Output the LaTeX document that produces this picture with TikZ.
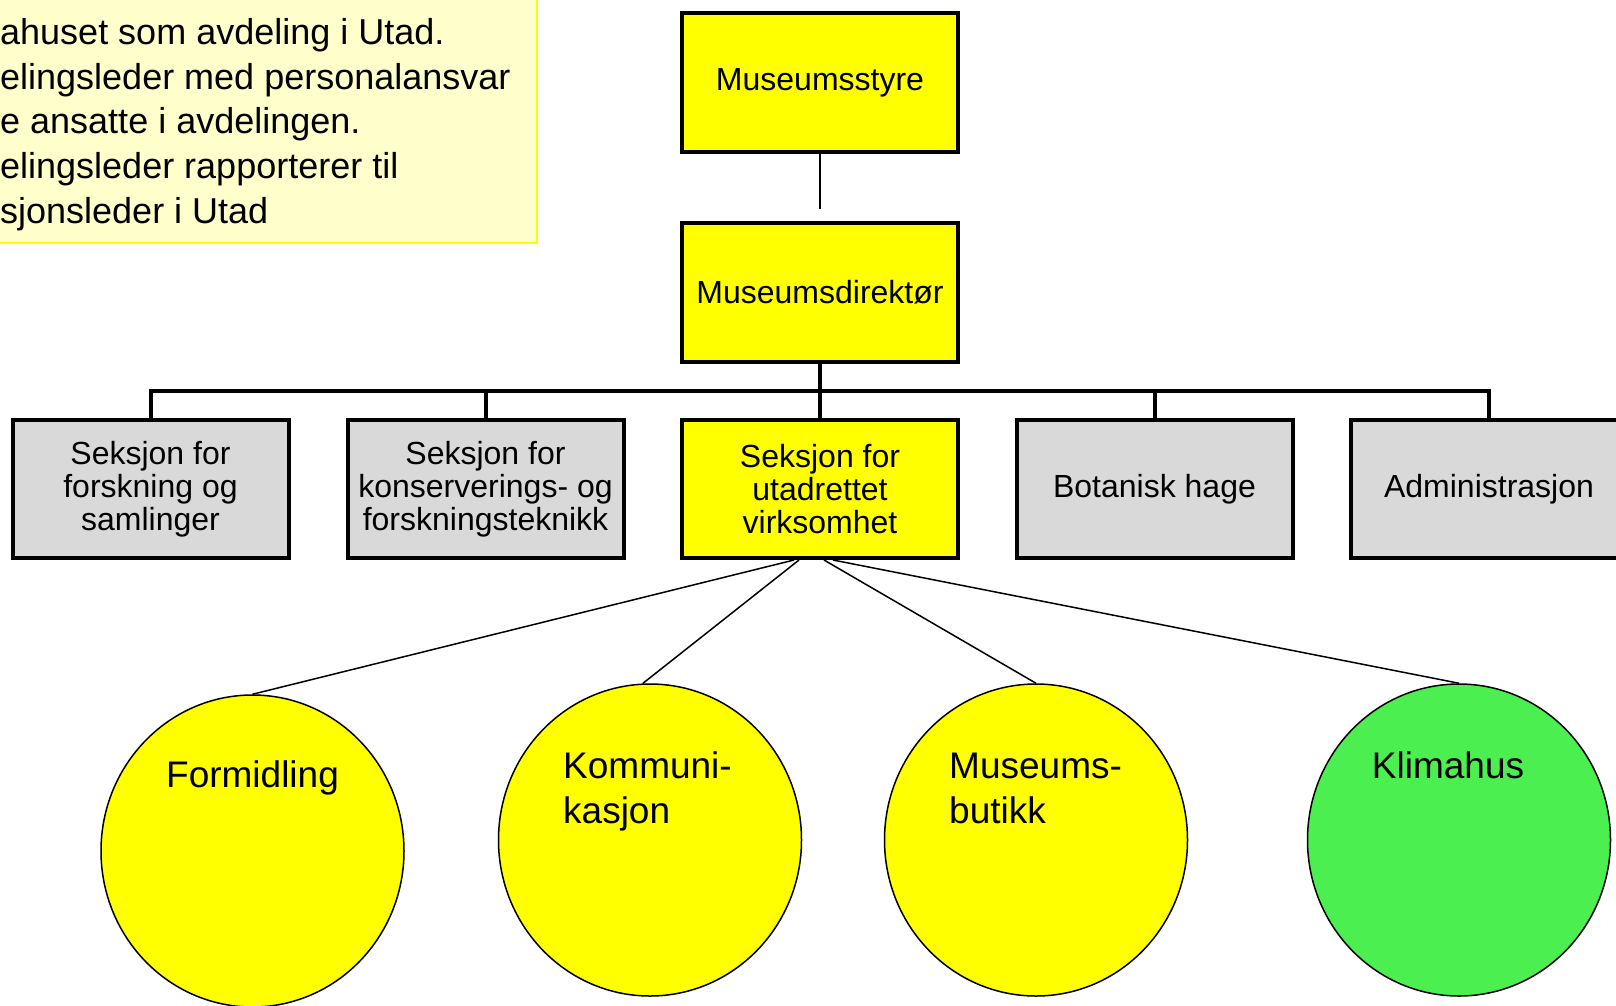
\documentclass[tikz,border=0pt]{standalone}
\usepackage{fontspec}
\setmainfont{Liberation Sans}
\usetikzlibrary{shapes.geometric,calc}
\definecolor{yel}{HTML}{FFFF00}
\definecolor{gry}{HTML}{D9D9D9}
\definecolor{grn}{HTML}{4BF050}
\definecolor{notefill}{HTML}{FFFFCC}
\begin{document}
\begin{tikzpicture}[x=1pt,y=-1pt,
  orgbox/.style={draw=black, line width=4pt, rectangle, minimum width=276pt,
    inner sep=0pt, align=center, font=\fontsize{32}{33}\selectfont},
  topbox/.style={orgbox, fill=yel, minimum height=139pt},
  secbox/.style={orgbox, minimum height=138pt},
  unit/.style={draw=black, line width=1.5pt, ellipse, minimum width=303pt,
    minimum height=312pt, inner sep=0pt},
  unittext/.style={font=\fontsize{37}{45}\selectfont, inner sep=0pt},
  notetext/.style={font=\fontsize{36}{44}\selectfont, inner sep=0pt, anchor=base west},
  bus/.style={line width=4pt, line cap=rect},
  thin/.style={line width=1.5pt}]
\useasboundingbox (0,0) rectangle (1616,1005);
\begin{scope}
\clip (0,0) rectangle (1616,1005);
% note
\draw[fill=notefill, draw=yel, line width=1.5pt] (-10,-10) rectangle (537,243);
\node[notetext] (n1) at (0,44) {ahuset som avdeling i Utad.};
\node[notetext] (n2) at (0,89) {elingsleder med personalansvar};
\node[notetext] (n3) at (0,133) {e ansatte i avdelingen.};
\node[notetext] (n4) at (0,178) {elingsleder rapporterer til};
\node[notetext] (n5) at (0,223) {sjonsleder i Utad};
% top boxes
\node[topbox] (styre) at (820,82.5) {Museumsstyre};
\node[topbox] (dir) at (820,292.5) {Museumsdirektør};
\coordinate (styreend) at (820,209);
\draw[thin] (styre.south) -- (styreend);
% sections
\node[secbox, fill=gry] (s1) at (150.5,489) {Seksjon for\\forskning og\\samlinger};
\node[secbox, fill=gry] (s2) at (485.5,489) {Seksjon for\\konserverings- og\\forskningsteknikk};
\node[secbox, fill=yel] (s3) at (820,489) {Seksjon for\\utadrettet\\virksomhet};
\node[secbox, fill=gry] (s4) at (1154.5,489) {Botanisk hage};
\node[secbox, fill=gry] (s5) at (1489,489) {Administrasjon};
\coordinate (busc) at (820,391);
\draw[bus] (dir.south) -- (busc);
\draw[bus] (s1.north) |- (busc);
\draw[bus] (s2.north) |- (busc);
\draw[bus] (s3.north) -- (busc);
\draw[bus] (s4.north) |- (busc);
\draw[bus] (s5.north) |- (busc);
% units
\node[unit, fill=yel] (u1) at (252.5,851) {};
\node[unit, fill=yel] (u2) at (650,840) {};
\node[unit, fill=yel] (u3) at (1036,840) {};
\node[unit, fill=grn] (u4) at (1459,840) {};
\node[unittext, anchor=base] (t1) at (252.5,787) {Formidling};
\node[unittext, anchor=base west] (t2a) at (563,778) {Kommuni-};
\node[unittext, anchor=base west] (t2b) at (563,823) {kasjon};
\node[unittext, anchor=base west] (t3a) at (949,778) {Museums-};
\node[unittext, anchor=base west] (t3b) at (949,823) {butikk};
\node[unittext, anchor=base] (t4) at (1448,778) {Klimahus};
\coordinate (c1) at ($(s3.south)+(-26,0)$);
\coordinate (c2) at ($(s3.south)+(-21,0)$);
\coordinate (c3) at ($(s3.south)+(4,0)$);
\coordinate (c4) at ($(s3.south)+(13,0)$);
\draw[thin] (c1) -- (u1.north);
\draw[thin] (c2) -- ($(u2.north)+(-7,0)$);
\draw[thin] (c3) -- (u3.north);
\draw[thin] (c4) -- (u4.north);
\end{scope}
\end{tikzpicture}
\end{document}
